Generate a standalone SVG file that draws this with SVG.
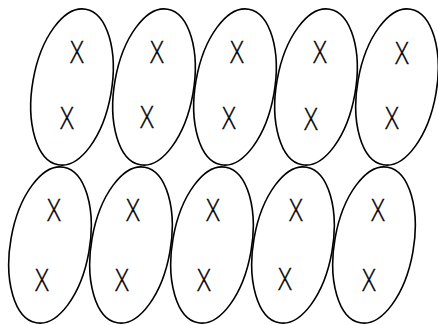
<svg xmlns="http://www.w3.org/2000/svg" width="438" height="325" viewBox="0 0 438 325">
<style>
.e{fill:none;stroke:#000;stroke-width:1.6}
.x{font-family:"Open Sans","Liberation Sans",sans-serif;font-weight:300;font-size:31px;text-anchor:middle;fill:#000;stroke:#000;stroke-width:0.4}
</style>
<rect width="438" height="325" fill="#fff"/>
<g id="t1"><ellipse class="e" cx="72" cy="87" rx="39.5" ry="79" transform="rotate(10 72 87)"/>
<text class="x" transform="translate(77 52) scale(0.8 1)" y="11">X</text>
<text class="x" transform="translate(67 118) scale(0.8 1)" y="11">X</text></g>
<g id="t2"><ellipse class="e" cx="154" cy="87" rx="39.5" ry="79" transform="rotate(10 154 87)"/>
<text class="x" transform="translate(157 52) scale(0.8 1)" y="11">X</text>
<text class="x" transform="translate(147 117) scale(0.8 1)" y="11">X</text></g>
<g id="t3"><ellipse class="e" cx="235" cy="87" rx="39.5" ry="79" transform="rotate(10 235 87)"/>
<text class="x" transform="translate(237 52) scale(0.8 1)" y="11">X</text>
<text class="x" transform="translate(229 118) scale(0.8 1)" y="11">X</text></g>
<g id="t4"><ellipse class="e" cx="316" cy="87" rx="39.5" ry="79" transform="rotate(10 316 87)"/>
<text class="x" transform="translate(320 52) scale(0.8 1)" y="11">X</text>
<text class="x" transform="translate(311 119) scale(0.8 1)" y="11">X</text></g>
<g id="t5"><ellipse class="e" cx="397" cy="87" rx="39.5" ry="79" transform="rotate(10 397 87)"/>
<text class="x" transform="translate(402 53) scale(0.8 1)" y="11">X</text>
<text class="x" transform="translate(392 118) scale(0.8 1)" y="11">X</text></g>
<g id="b1"><ellipse class="e" cx="50" cy="245" rx="39.5" ry="79" transform="rotate(10 50 245)"/>
<text class="x" transform="translate(54 210) scale(0.8 1)" y="11">X</text>
<text class="x" transform="translate(42 280) scale(0.8 1)" y="11">X</text></g>
<g id="b2"><ellipse class="e" cx="131" cy="245" rx="39.5" ry="79" transform="rotate(10 131 245)"/>
<text class="x" transform="translate(133 210) scale(0.8 1)" y="11">X</text>
<text class="x" transform="translate(122 280) scale(0.8 1)" y="11">X</text></g>
<g id="b3"><ellipse class="e" cx="212" cy="245" rx="39.5" ry="79" transform="rotate(10 212 245)"/>
<text class="x" transform="translate(213 210) scale(0.8 1)" y="11">X</text>
<text class="x" transform="translate(204 280) scale(0.8 1)" y="11">X</text></g>
<g id="b4"><ellipse class="e" cx="293" cy="245" rx="39.5" ry="79" transform="rotate(10 293 245)"/>
<text class="x" transform="translate(296 210) scale(0.8 1)" y="11">X</text>
<text class="x" transform="translate(285 279) scale(0.8 1)" y="11">X</text></g>
<g id="b5"><ellipse class="e" cx="374" cy="245" rx="39.5" ry="79" transform="rotate(10 374 245)"/>
<text class="x" transform="translate(378 210) scale(0.8 1)" y="11">X</text>
<text class="x" transform="translate(369 280) scale(0.8 1)" y="11">X</text></g>
</svg>
